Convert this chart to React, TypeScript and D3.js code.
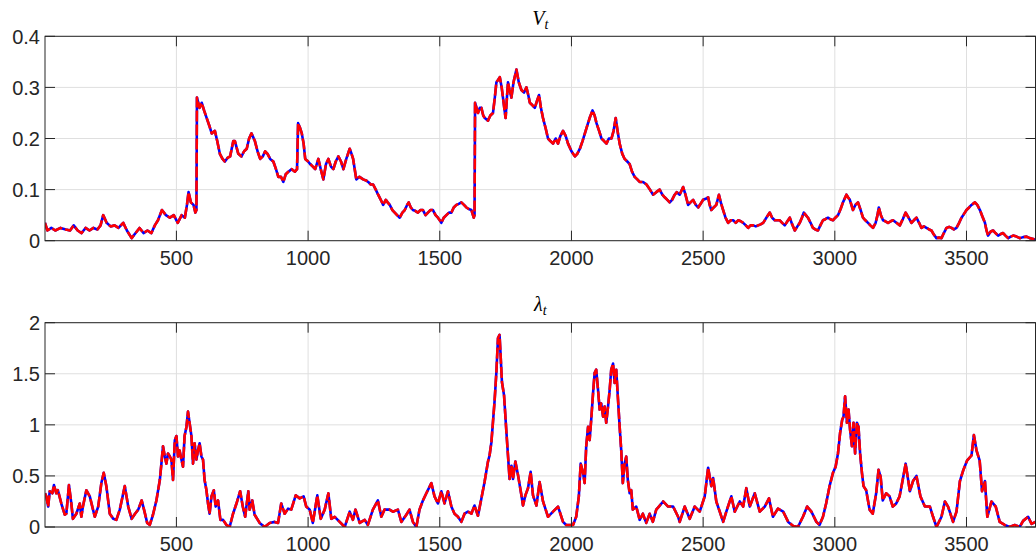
import React from "react";
import * as d3 from "d3";

// ---- data (t, value) ----
const xTicks = [500, 1000, 1500, 2000, 2500, 3000, 3500];
const vTicks = [0, 0.1, 0.2, 0.3, 0.4];
const vTickLabels = ["0", "0.1", "0.2", "0.3", "0.4"];
const lTicks = [0, 0.5, 1, 1.5, 2];
const lTickLabels = ["0", "0.5", "1", "1.5", "2"];

const vtSeries: [number, number][] = [
  [1,0.035],[10,0.02],[25,0.025],[40,0.02],[60,0.025],[80,0.022],[96,0.02],[110,0.03],[125,0.02],[140,0.015],[155,0.025],[170,0.02],[185,0.025],[200,0.022],[212,0.03],[222,0.05],[235,0.035],[250,0.028],[265,0.03],[280,0.025],[298,0.035],[312,0.02],[330,0.005],[345,0.015],[360,0.025],[375,0.015],[390,0.02],[405,0.015],[418,0.03],[430,0.04],[445,0.06],[460,0.05],[475,0.045],[490,0.05],[505,0.035],[520,0.05],[532,0.045],[540,0.07],[546,0.095],[555,0.075],[565,0.07],[572,0.055],[576,0.06],[578,0.28],[588,0.26],[596,0.27],[605,0.255],[615,0.24],[625,0.225],[634,0.21],[646,0.215],[655,0.195],[665,0.17],[675,0.16],[684,0.155],[694,0.162],[704,0.165],[716,0.195],[722,0.195],[735,0.17],[747,0.165],[757,0.175],[767,0.18],[776,0.2],[785,0.21],[798,0.195],[808,0.175],[818,0.16],[828,0.165],[837,0.175],[846,0.17],[856,0.16],[868,0.155],[878,0.14],[887,0.125],[897,0.125],[906,0.115],[915,0.13],[925,0.135],[938,0.14],[950,0.135],[958,0.14],[962,0.23],[970,0.22],[976,0.21],[983,0.19],[989,0.16],[1000,0.155],[1008,0.15],[1018,0.145],[1027,0.14],[1039,0.16],[1048,0.14],[1058,0.12],[1068,0.15],[1077,0.16],[1087,0.145],[1096,0.14],[1105,0.155],[1115,0.165],[1125,0.155],[1134,0.14],[1145,0.16],[1158,0.18],[1165,0.17],[1171,0.16],[1180,0.13],[1183,0.12],[1195,0.125],[1209,0.12],[1220,0.118],[1228,0.115],[1238,0.11],[1247,0.11],[1257,0.1],[1266,0.09],[1276,0.08],[1285,0.07],[1295,0.08],[1302,0.075],[1310,0.07],[1320,0.06],[1329,0.055],[1338,0.05],[1348,0.045],[1358,0.055],[1367,0.06],[1376,0.07],[1382,0.075],[1390,0.065],[1398,0.06],[1408,0.058],[1417,0.055],[1427,0.06],[1436,0.06],[1446,0.05],[1455,0.055],[1465,0.06],[1474,0.06],[1484,0.05],[1493,0.045],[1500,0.04],[1506,0.035],[1515,0.045],[1525,0.05],[1535,0.055],[1544,0.055],[1553,0.065],[1563,0.07],[1572,0.072],[1582,0.075],[1592,0.07],[1601,0.065],[1610,0.062],[1620,0.06],[1629,0.045],[1632,0.05],[1634,0.27],[1645,0.25],[1652,0.26],[1658,0.26],[1665,0.245],[1671,0.24],[1683,0.235],[1692,0.245],[1702,0.25],[1709,0.28],[1715,0.31],[1722,0.315],[1728,0.32],[1735,0.3],[1740,0.28],[1746,0.255],[1750,0.24],[1755,0.28],[1759,0.31],[1765,0.295],[1772,0.28],[1780,0.31],[1791,0.335],[1800,0.31],[1810,0.295],[1820,0.29],[1829,0.3],[1836,0.285],[1842,0.27],[1852,0.265],[1861,0.26],[1870,0.275],[1877,0.285],[1884,0.26],[1892,0.24],[1902,0.22],[1911,0.2],[1920,0.195],[1930,0.19],[1940,0.2],[1949,0.19],[1958,0.205],[1968,0.215],[1978,0.205],[1987,0.19],[2000,0.175],[2013,0.165],[2022,0.17],[2032,0.18],[2042,0.195],[2051,0.21],[2060,0.225],[2069,0.24],[2080,0.255],[2088,0.245],[2095,0.23],[2105,0.215],[2114,0.2],[2124,0.195],[2133,0.19],[2142,0.2],[2152,0.2],[2160,0.215],[2168,0.24],[2175,0.215],[2183,0.19],[2193,0.17],[2202,0.16],[2212,0.155],[2221,0.15],[2230,0.135],[2240,0.125],[2250,0.12],[2259,0.115],[2272,0.115],[2285,0.11],[2298,0.1],[2310,0.09],[2322,0.095],[2335,0.1],[2345,0.09],[2354,0.085],[2364,0.08],[2373,0.075],[2382,0.08],[2392,0.09],[2400,0.095],[2411,0.09],[2424,0.105],[2433,0.09],[2443,0.07],[2452,0.075],[2462,0.08],[2472,0.07],[2481,0.065],[2490,0.072],[2500,0.08],[2510,0.082],[2519,0.085],[2525,0.07],[2531,0.06],[2540,0.065],[2550,0.07],[2560,0.09],[2567,0.075],[2576,0.06],[2585,0.045],[2595,0.035],[2605,0.04],[2614,0.04],[2624,0.035],[2633,0.04],[2643,0.038],[2652,0.035],[2662,0.03],[2671,0.025],[2680,0.03],[2690,0.03],[2700,0.028],[2709,0.03],[2718,0.032],[2728,0.035],[2740,0.045],[2753,0.055],[2762,0.045],[2772,0.04],[2781,0.04],[2791,0.04],[2800,0.035],[2810,0.03],[2820,0.038],[2829,0.045],[2838,0.032],[2848,0.02],[2858,0.028],[2867,0.035],[2875,0.045],[2882,0.055],[2890,0.05],[2898,0.045],[2908,0.035],[2917,0.025],[2926,0.022],[2936,0.02],[2945,0.03],[2955,0.04],[2964,0.042],[2974,0.045],[2983,0.042],[2993,0.04],[3002,0.045],[3012,0.05],[3022,0.062],[3031,0.075],[3044,0.09],[3050,0.085],[3057,0.08],[3063,0.07],[3069,0.06],[3078,0.07],[3088,0.075],[3098,0.06],[3107,0.045],[3116,0.04],[3126,0.035],[3135,0.03],[3145,0.025],[3155,0.035],[3162,0.05],[3167,0.065],[3175,0.05],[3183,0.04],[3192,0.038],[3202,0.035],[3212,0.038],[3221,0.04],[3234,0.035],[3247,0.03],[3258,0.042],[3269,0.055],[3280,0.045],[3291,0.035],[3300,0.04],[3310,0.045],[3320,0.035],[3329,0.025],[3338,0.028],[3348,0.025],[3358,0.022],[3367,0.02],[3376,0.012],[3386,0.005],[3395,0.006],[3405,0.005],[3414,0.015],[3424,0.025],[3434,0.027],[3443,0.025],[3452,0.022],[3462,0.025],[3472,0.035],[3481,0.045],[3490,0.052],[3500,0.06],[3510,0.065],[3519,0.07],[3532,0.075],[3541,0.07],[3551,0.06],[3560,0.048],[3570,0.035],[3576,0.02],[3582,0.01],[3592,0.018],[3601,0.02],[3610,0.015],[3620,0.01],[3630,0.013],[3639,0.015],[3648,0.01],[3658,0.005],[3668,0.008],[3677,0.01],[3690,0.008],[3702,0.005],[3715,0.007],[3728,0.008],[3740,0.005],[3750,0.004],[3762,0.002]
];

const lambdaSeries: [number, number][] = [
  [1,0.33],[6,0.3],[13,0.2],[19,0.35],[29,0.33],[35,0.41],[44,0.33],[50,0.36],[63,0.23],[76,0.12],[82,0.13],[92,0.41],[101,0.23],[107,0.08],[120,0.13],[133,0.23],[139,0.1],[145,0.2],[158,0.36],[171,0.3],[190,0.1],[203,0.2],[215,0.43],[224,0.53],[234,0.4],[247,0.13],[260,0.08],[272,0.07],[285,0.17],[304,0.4],[317,0.2],[330,0.08],[343,0.13],[355,0.17],[368,0.26],[377,0.17],[389,0.04],[399,0.02],[411,0.12],[424,0.26],[437,0.46],[443,0.62],[449,0.79],[456,0.69],[462,0.62],[468,0.72],[475,0.69],[481,0.66],[487,0.46],[494,0.85],[500,0.89],[506,0.69],[512,0.75],[519,0.66],[525,0.59],[531,0.89],[538,0.98],[544,1.13],[550,1.02],[557,0.89],[563,0.62],[569,0.82],[576,0.66],[582,0.75],[588,0.82],[595,0.69],[601,0.66],[607,0.46],[614,0.36],[620,0.23],[626,0.13],[633,0.3],[642,0.36],[649,0.2],[658,0.26],[667,0.07],[677,0.07],[690,0.02],[702,0.0],[715,0.13],[728,0.23],[742,0.35],[752,0.2],[761,0.1],[773,0.35],[778,0.17],[788,0.26],[797,0.12],[816,0.04],[835,0.0],[854,0.04],[873,0.05],[886,0.04],[898,0.23],[911,0.13],[924,0.18],[936,0.17],[953,0.31],[968,0.28],[983,0.3],[993,0.2],[1006,0.17],[1018,0.04],[1035,0.31],[1048,0.08],[1063,0.17],[1077,0.33],[1088,0.08],[1101,0.1],[1120,0.05],[1139,0.0],[1158,0.15],[1170,0.07],[1180,0.17],[1196,0.04],[1215,0.07],[1227,0.02],[1246,0.17],[1265,0.26],[1278,0.1],[1290,0.17],[1309,0.17],[1322,0.15],[1341,0.17],[1354,0.05],[1373,0.12],[1385,0.17],[1398,0.05],[1411,0.0],[1423,0.17],[1436,0.26],[1449,0.33],[1468,0.43],[1480,0.3],[1493,0.23],[1506,0.35],[1518,0.23],[1531,0.35],[1544,0.2],[1556,0.13],[1569,0.1],[1582,0.05],[1594,0.13],[1607,0.15],[1620,0.13],[1632,0.21],[1645,0.11],[1658,0.28],[1670,0.44],[1683,0.64],[1689,0.7],[1696,0.83],[1702,1.03],[1708,1.23],[1715,1.52],[1721,1.85],[1727,1.88],[1731,1.68],[1736,1.42],[1744,1.29],[1753,0.93],[1759,0.7],[1765,0.47],[1772,0.6],[1778,0.47],[1787,0.64],[1797,0.51],[1810,0.31],[1816,0.21],[1825,0.31],[1835,0.38],[1845,0.54],[1854,0.31],[1867,0.21],[1879,0.44],[1892,0.25],[1911,0.1],[1930,0.15],[1949,0.2],[1968,0.05],[1980,0.02],[1993,0.02],[2006,0.02],[2018,0.1],[2028,0.3],[2035,0.62],[2044,0.53],[2050,0.43],[2056,0.79],[2063,0.98],[2069,0.85],[2075,1.05],[2082,1.31],[2088,1.51],[2094,1.54],[2101,1.34],[2107,1.15],[2113,1.21],[2120,1.08],[2126,1.18],[2132,1.02],[2139,1.18],[2145,1.34],[2151,1.54],[2158,1.6],[2164,1.41],[2170,1.54],[2176,1.28],[2183,0.98],[2189,0.75],[2195,0.43],[2202,0.62],[2208,0.69],[2214,0.46],[2221,0.33],[2227,0.36],[2233,0.17],[2246,0.2],[2259,0.07],[2271,0.13],[2284,0.04],[2297,0.13],[2309,0.05],[2322,0.17],[2332,0.2],[2348,0.25],[2367,0.2],[2386,0.2],[2405,0.1],
  [2411,0.05],[2430,0.2],[2449,0.08],[2468,0.2],[2487,0.15],[2506,0.3],[2519,0.58],[2531,0.4],[2538,0.48],[2550,0.25],[2563,0.15],[2576,0.05],[2588,0.15],[2607,0.3],[2620,0.15],[2639,0.25],[2652,0.2],[2664,0.38],[2677,0.2],[2696,0.33],[2715,0.15],[2734,0.2],[2750,0.28],[2765,0.1],[2784,0.18],[2804,0.15],[2823,0.05],[2842,0.01],[2860,0.0],[2879,0.1],[2895,0.2],[2911,0.15],[2930,0.05],[2942,0.02],[2955,0.1],[2967,0.23],[2980,0.4],[2993,0.53],[3003,0.59],[3012,0.72],[3020,0.92],[3028,1.05],[3033,1.08],[3039,1.28],[3046,1.02],[3052,1.15],[3058,0.95],[3065,0.79],[3071,1.02],[3077,0.72],[3084,1.02],[3090,0.98],[3096,0.72],[3103,0.53],[3109,0.4],[3119,0.36],[3132,0.17],[3144,0.13],[3157,0.33],[3166,0.56],[3174,0.49],[3182,0.26],[3195,0.33],[3208,0.3],[3220,0.2],[3233,0.23],[3246,0.3],[3257,0.45],[3269,0.62],[3285,0.35],[3297,0.45],[3310,0.5],[3325,0.3],[3342,0.2],[3361,0.2],[3373,0.1],[3386,0.0],[3405,0.1],[3418,0.25],[3430,0.2],[3449,0.05],[3462,0.15],[3475,0.45],[3487,0.55],[3502,0.65],[3519,0.7],[3528,0.9],[3538,0.75],[3550,0.65],[3559,0.35],[3570,0.45],[3579,0.1],[3595,0.25],[3611,0.2],[3626,0.05],[3645,0.02],[3664,0.0],[3683,0.02],[3702,0.0],[3715,0.06],[3734,0.1],[3747,0.03],[3762,0.05]
];

const xDomain: [number, number] = [1, 3762];

const W = 1036;
const H = 558;
const left = 45;
const right = 1035.5;
const textColor = "#262626";
const gridColor = "#dfdfdf";
const tickFont = "'Liberation Sans', Arial, Helvetica, sans-serif";

type PanelProps = {
  top: number;
  bottom: number;
  data: [number, number][];
  yDomain: [number, number];
  yTicks: number[];
  yLabels: string[];
  title: string;
  clipId: string;
};

function Panel({ top, bottom, data, yDomain, yTicks, yLabels, title, clipId }: PanelProps) {
  const x = d3.scaleLinear().domain(xDomain).range([left, right]);
  const y = d3.scaleLinear().domain(yDomain).range([bottom, top]);
  const line = d3
    .line<[number, number]>()
    .x((d) => x(d[0]))
    .y((d) => y(d[1]));
  const path = line(data) || "";
  const tl = 10;
  return (
    <g>
      <defs>
        <clipPath id={clipId}>
          <rect x={left} y={top - 2} width={right - left} height={bottom - top + 2} />
        </clipPath>
      </defs>
      {xTicks.map((t) => (
        <line key={"gx" + t} x1={x(t)} x2={x(t)} y1={top} y2={bottom} stroke={gridColor} strokeWidth={1} />
      ))}
      {yTicks.map((t) => (
        <line key={"gy" + t} x1={left} x2={right} y1={y(t)} y2={y(t)} stroke={gridColor} strokeWidth={1} />
      ))}
      <g clipPath={`url(#${clipId})`}>
        <path d={path} fill="none" stroke="#0000ff" strokeWidth={2.6} strokeLinejoin="round" />
        <path d={path} fill="none" stroke="#ff0000" strokeWidth={2.6} strokeDasharray="11,3" strokeLinejoin="round" />
      </g>
      <rect x={left} y={top} width={right - left} height={bottom - top} fill="none" stroke={textColor} strokeWidth={1} />
      {xTicks.map((t) => (
        <g key={"tx" + t}>
          <line x1={x(t)} x2={x(t)} y1={bottom} y2={bottom - tl} stroke={textColor} />
          <line x1={x(t)} x2={x(t)} y1={top} y2={top + tl} stroke={textColor} />
          <text x={x(t)} y={bottom + 24} textAnchor="middle" fontSize={20} fill={textColor} fontFamily={tickFont}>
            {t}
          </text>
        </g>
      ))}
      {yTicks.map((t, i) => (
        <g key={"ty" + t}>
          <line x1={left} x2={left + tl} y1={y(t)} y2={y(t)} stroke={textColor} />
          <line x1={right} x2={right - tl} y1={y(t)} y2={y(t)} stroke={textColor} />
          <text x={left - 5} y={y(t)} dy="0.36em" textAnchor="end" fontSize={20} fill={textColor} fontFamily={tickFont}>
            {yLabels[i]}
          </text>
        </g>
      ))}
      <text x={(left + right) / 2} y={top - 11.5} textAnchor="middle" fontSize={20} fill="#000" fontFamily="'Liberation Serif', 'Times New Roman', serif" fontStyle="italic">
        <tspan>{title}</tspan>
        <tspan fontSize={14} dy={4}>t</tspan>
      </text>
    </g>
  );
}

export default function App() {
  return (
    <svg width={W} height={H} style={{ position: "absolute", left: 0, top: 0, background: "#fff" }}>
      <rect x={0} y={0} width={W} height={H} fill="#fff" />
      <Panel top={36.3} bottom={240.7} data={vtSeries} yDomain={[0, 0.4]} yTicks={vTicks} yLabels={vTickLabels} title="V" clipId="clipTop" />
      <Panel top={322.7} bottom={527} data={lambdaSeries} yDomain={[0, 2]} yTicks={lTicks} yLabels={lTickLabels} title="λ" clipId="clipBottom" />
    </svg>
  );
}
